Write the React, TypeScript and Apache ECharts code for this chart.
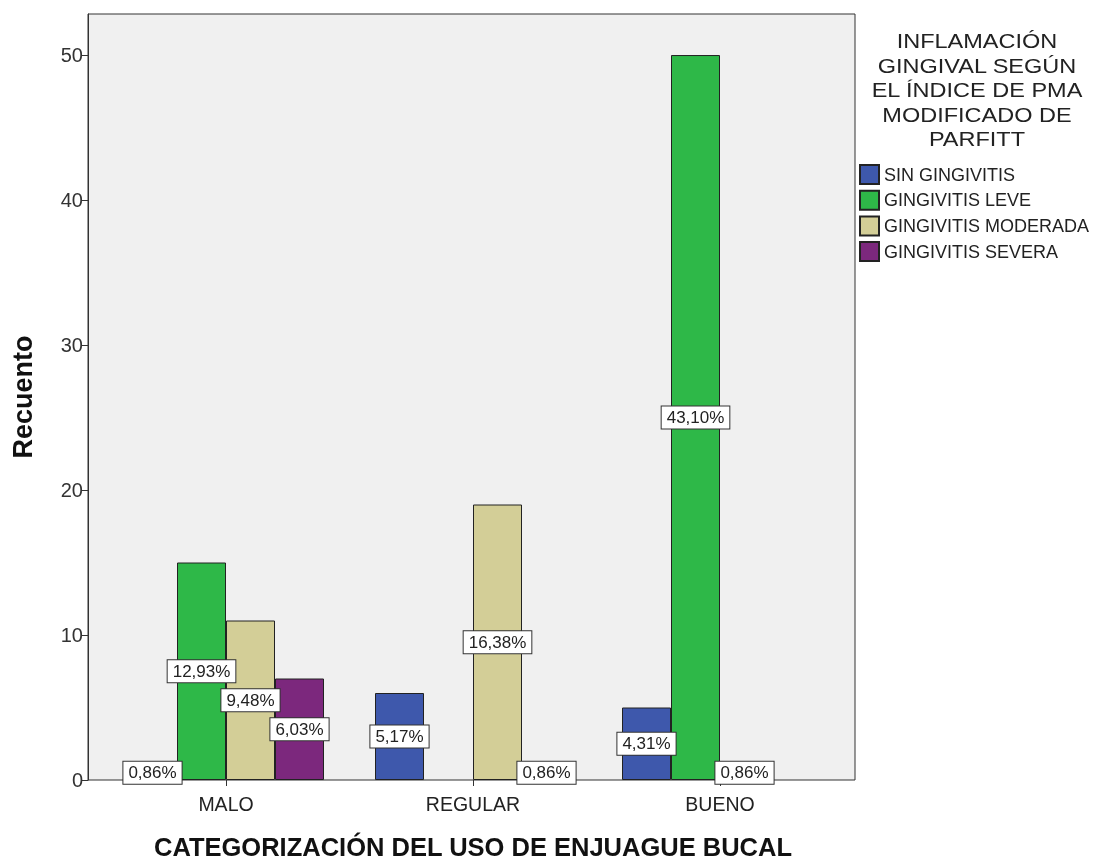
import React, { useEffect, useRef } from "react";
import * as echarts from "echarts";

const categories = ["MALO", "REGULAR", "BUENO"];
const seriesNames = ["SIN GINGIVITIS", "GINGIVITIS LEVE", "GINGIVITIS MODERADA", "GINGIVITIS SEVERA"];
const sinGingivitis = [1, 6, 5];
const gingivitisLeve = [15, 0, 50];
const gingivitisModerada = [11, 19, 1];
const gingivitisSevera = [7, 1, 0];
const colors = ["#3e58ac", "#2eb848", "#d3ce97", "#7c287d"];
const yTicks = [0, 10, 20, 30, 40, 50];
const yMax = 52.83;
const legendTitle = "INFLAMACIÓN\nGINGIVAL SEGÚN\nEL ÍNDICE DE PMA\nMODIFICADO DE\nPARFITT";

const FONT = "'Liberation Sans', Arial, sans-serif";

export default function App() {
  const ref = useRef<HTMLDivElement>(null);
  useEffect(() => {
    if (!ref.current) return;
    const chart = echarts.init(ref.current, undefined, { renderer: "svg" });
    const all = [sinGingivitis, gingivitisLeve, gingivitisModerada, gingivitisSevera];
    const total = all.reduce((s, a) => s + a.reduce((x, y) => x + y, 0), 0);
    const fmtPct = (v: number) => ((v / total) * 100).toFixed(2).replace(".", ",") + "%";

    const series = all.map((arr, i) => ({
      name: seriesNames[i],
      type: "bar",
      xAxisIndex: 1,
      yAxisIndex: 1,
      barWidth: 49,
      barGap: "0%",
      itemStyle: { color: colors[i], borderColor: "#222", borderWidth: 1 },
      data: arr.map((v) => (v === 0 ? null : v)),
      label: {
        show: true,
        position: "inside",
        formatter: (p: any) => fmtPct(p.value),
        fontSize: 17,
        fontFamily: FONT,
        color: "#222",
        backgroundColor: "#ffffff",
        borderColor: "#333",
        borderWidth: 1,
        padding: [3, 5, 2, 5],
      },
      z: 2,
    }));

    chart.setOption({
      animation: false,
      textStyle: { fontFamily: FONT },
      graphic: [
        {
          type: "text",
          x: 977,
          y: 29,
          scaleX: 1.12,
          style: {
            text: legendTitle,
            textAlign: "center",
            textVerticalAlign: "top",
            font: `normal 21px ${FONT}`,
            lineHeight: 24.5,
            fill: "#222",
          },
        },
      ],
      legend: {
        orient: "vertical",
        left: 859,
        top: 164,
        padding: 0,
        itemWidth: 19,
        itemHeight: 19,
        itemGap: 4.7,
        icon: "rect",
        textStyle: { fontSize: 18, color: "#222", fontFamily: FONT },
        data: seriesNames,
      },
      grid: [
        { left: 88, top: 14, width: 767, height: 766, show: true, backgroundColor: "#f0f0f0", borderColor: "#333", borderWidth: 1, containLabel: false, outerBoundsMode: "none" },
        { left: 102.5, top: 14, width: 741, height: 766, containLabel: false, outerBoundsMode: "none" },
      ],
      xAxis: [
        { gridIndex: 0, type: "category", data: categories, show: false },
        {
          gridIndex: 1,
          type: "category",
          data: categories,
          axisLine: { show: false },
          axisTick: { show: true, alignWithLabel: true, length: 6, lineStyle: { color: "#333" } },
          axisLabel: { fontSize: 19.5, color: "#222", margin: 14, fontFamily: FONT },
          name: "CATEGORIZACIÓN DEL USO DE ENJUAGUE BUCAL",
          nameLocation: "middle",
          nameGap: 54,
          nameTextStyle: { fontSize: 25.5, fontWeight: "bold", color: "#111", fontFamily: FONT },
        },
      ],
      yAxis: [
        {
          gridIndex: 0,
          type: "value",
          min: 0,
          max: yMax,
          interval: 10,
          axisLine: { show: true, lineStyle: { color: "#333" } },
          axisTick: { show: true, length: 6, lineStyle: { color: "#333" }, customValues: yTicks },
          axisLabel: { fontSize: 20, color: "#333", margin: 5, fontFamily: FONT, customValues: yTicks },
          splitLine: { show: false },
          name: "Recuento",
          nameLocation: "middle",
          nameRotate: 90,
          nameGap: 52,
          nameTextStyle: { fontSize: 27, fontWeight: "bold", color: "#111", fontFamily: FONT },
        },
        { gridIndex: 1, type: "value", min: 0, max: yMax, show: false },
      ],
      series,
    });
    return () => chart.dispose();
  }, []);
  return <div ref={ref} style={{ position: "fixed", left: 0, top: 0, width: 1097, height: 861 }} />;
}
